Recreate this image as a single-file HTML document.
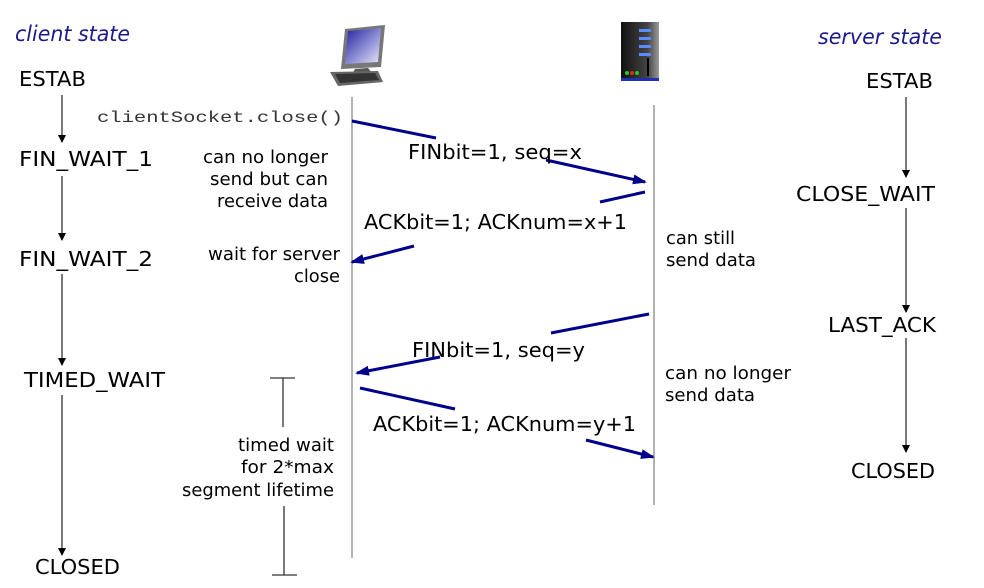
<!DOCTYPE html>
<html><head><meta charset="utf-8"><style>
html,body{margin:0;padding:0;background:#fff;width:984px;height:588px;overflow:hidden}
text{font-family:"DejaVu Sans","Liberation Sans",sans-serif;fill:#000}
</style></head><body>
<svg width="984" height="588" viewBox="0 0 984 588" xmlns="http://www.w3.org/2000/svg">
<defs>
<marker id="ab" markerWidth="8" markerHeight="8" refX="7" refY="4" orient="auto" markerUnits="userSpaceOnUse"><path d="M0,0 L8,4 L0,8 z" fill="#000"/></marker>
<marker id="bl" markerWidth="14" markerHeight="10" refX="12" refY="5" orient="auto" markerUnits="userSpaceOnUse"><path d="M0,0 L14,5 L0,10 z" fill="#00008b"/></marker>
<linearGradient id="scr" x1="0" y1="0" x2="1" y2="1"><stop offset="0" stop-color="#2020a0"/><stop offset="1" stop-color="#e8e8ff"/></linearGradient>
<linearGradient id="srv" x1="0" y1="0" x2="1" y2="0"><stop offset="0" stop-color="#111"/><stop offset="0.7" stop-color="#444"/><stop offset="1" stop-color="#999"/></linearGradient>
</defs>

<g>
<polygon points="345,29 385,25 381,67 341,69" fill="#777"/>
<polygon points="348,31 381,28 378,62 345,64" fill="url(#scr)"/>
<polygon points="355,69 368,68 372,73 352,74" fill="#555"/>
<polygon points="330,72 378,71 383,82 338,86" fill="#666"/>
<polygon points="335,74 375,73 379,80 340,83" fill="#333"/>
</g>
<g>
<rect x="621" y="22" width="38" height="59" fill="url(#srv)"/>
<rect x="639" y="29" width="12" height="3" fill="#5a8cff"/>
<rect x="639" y="37" width="12" height="3" fill="#5a8cff"/>
<rect x="639" y="45" width="12" height="3" fill="#5a8cff"/>
<rect x="639" y="53" width="12" height="3" fill="#5a8cff"/>
<rect x="647" y="58" width="2" height="18" fill="#000"/>
<circle cx="627" cy="73" r="2" fill="#2c2"/><circle cx="632" cy="73" r="2" fill="#e22"/><circle cx="637" cy="73" r="2" fill="#2c2"/>
<rect x="621" y="78" width="38" height="3" fill="#2030b0"/>
</g>

<line x1="352" y1="97" x2="352" y2="558" stroke="#888" stroke-width="1.3"/>
<line x1="654" y1="105" x2="654" y2="505" stroke="#888" stroke-width="1.3"/>

<g stroke="#333" stroke-width="1.3" marker-end="url(#ab)">
<line x1="62" y1="95" x2="62" y2="142"/>
<line x1="62" y1="176" x2="62" y2="240"/>
<line x1="62" y1="274" x2="62" y2="365"/>
<line x1="62" y1="395" x2="62" y2="555"/>
<line x1="906" y1="97" x2="906" y2="177"/>
<line x1="906" y1="208" x2="906" y2="312"/>
<line x1="906" y1="338" x2="906" y2="452"/>
</g>

<g stroke="#333" stroke-width="1.3">
<line x1="270" y1="378" x2="295" y2="378"/>
<line x1="283" y1="378" x2="283" y2="427"/>
<line x1="284" y1="506" x2="284" y2="575"/>
<line x1="272" y1="575" x2="297" y2="575"/>
</g>

<g stroke="#00008b" stroke-width="3" fill="none">
<line x1="352" y1="121" x2="436" y2="138"/>
<line x1="546" y1="160" x2="645" y2="182" marker-end="url(#bl)"/>
<line x1="645" y1="192" x2="600" y2="202"/>
<line x1="414" y1="246" x2="352" y2="262" marker-end="url(#bl)"/>
<line x1="649" y1="314" x2="551" y2="333"/>
<line x1="440" y1="357" x2="357" y2="373" marker-end="url(#bl)"/>
<line x1="360" y1="388" x2="455" y2="409"/>
<line x1="586" y1="440" x2="653" y2="457" marker-end="url(#bl)"/>
</g>

<text x="15" y="41" font-size="21" font-style="italic" style="fill:#1a1a8c" textLength="115" lengthAdjust="spacingAndGlyphs">client state</text>
<text x="818" y="44" font-size="21" font-style="italic" style="fill:#1a1a8c" textLength="124" lengthAdjust="spacingAndGlyphs">server state</text>

<g font-size="20">
<text x="19" y="86" textLength="67" lengthAdjust="spacingAndGlyphs">ESTAB</text>
<text x="19" y="166" textLength="134" lengthAdjust="spacingAndGlyphs">FIN_WAIT_1</text>
<text x="19" y="266" textLength="134" lengthAdjust="spacingAndGlyphs">FIN_WAIT_2</text>
<text x="24" y="387" textLength="141" lengthAdjust="spacingAndGlyphs">TIMED_WAIT</text>
<text x="35" y="574" textLength="85" lengthAdjust="spacingAndGlyphs">CLOSED</text>
<text x="866" y="88" textLength="67" lengthAdjust="spacingAndGlyphs">ESTAB</text>
<text x="796" y="201" textLength="139" lengthAdjust="spacingAndGlyphs">CLOSE_WAIT</text>
<text x="828" y="332" textLength="108" lengthAdjust="spacingAndGlyphs">LAST_ACK</text>
<text x="851" y="478" textLength="84" lengthAdjust="spacingAndGlyphs">CLOSED</text>
</g>

<text x="97" y="122" font-size="16" style="font-family:'Liberation Mono',monospace;fill:#333" textLength="246" lengthAdjust="spacingAndGlyphs">clientSocket.close()</text>

<g font-size="18">
<text x="203" y="163" textLength="125" lengthAdjust="spacingAndGlyphs">can no longer</text>
<text x="210" y="185" textLength="118" lengthAdjust="spacingAndGlyphs">send but can</text>
<text x="217" y="207" textLength="111" lengthAdjust="spacingAndGlyphs">receive data</text>
<text x="208" y="260" textLength="132" lengthAdjust="spacingAndGlyphs">wait for server</text>
<text x="294" y="282" textLength="46" lengthAdjust="spacingAndGlyphs">close</text>
<text x="238" y="451" textLength="96" lengthAdjust="spacingAndGlyphs">timed wait</text>
<text x="241" y="473" textLength="93" lengthAdjust="spacingAndGlyphs">for 2*max</text>
<text x="182" y="496" textLength="152" lengthAdjust="spacingAndGlyphs">segment lifetime</text>
<text x="666" y="244" textLength="69" lengthAdjust="spacingAndGlyphs">can still</text>
<text x="666" y="266" textLength="90" lengthAdjust="spacingAndGlyphs">send data</text>
<text x="665" y="379" textLength="126" lengthAdjust="spacingAndGlyphs">can no longer</text>
<text x="665" y="401" textLength="90" lengthAdjust="spacingAndGlyphs">send data</text>
</g>

<g font-size="20">
<text x="408" y="159" textLength="174" lengthAdjust="spacingAndGlyphs">FINbit=1, seq=x</text>
<text x="364" y="229" textLength="263" lengthAdjust="spacingAndGlyphs">ACKbit=1; ACKnum=x+1</text>
<text x="412" y="357" textLength="173" lengthAdjust="spacingAndGlyphs">FINbit=1, seq=y</text>
<text x="373" y="431" textLength="263" lengthAdjust="spacingAndGlyphs">ACKbit=1; ACKnum=y+1</text>
</g>
</svg>
</body></html>
